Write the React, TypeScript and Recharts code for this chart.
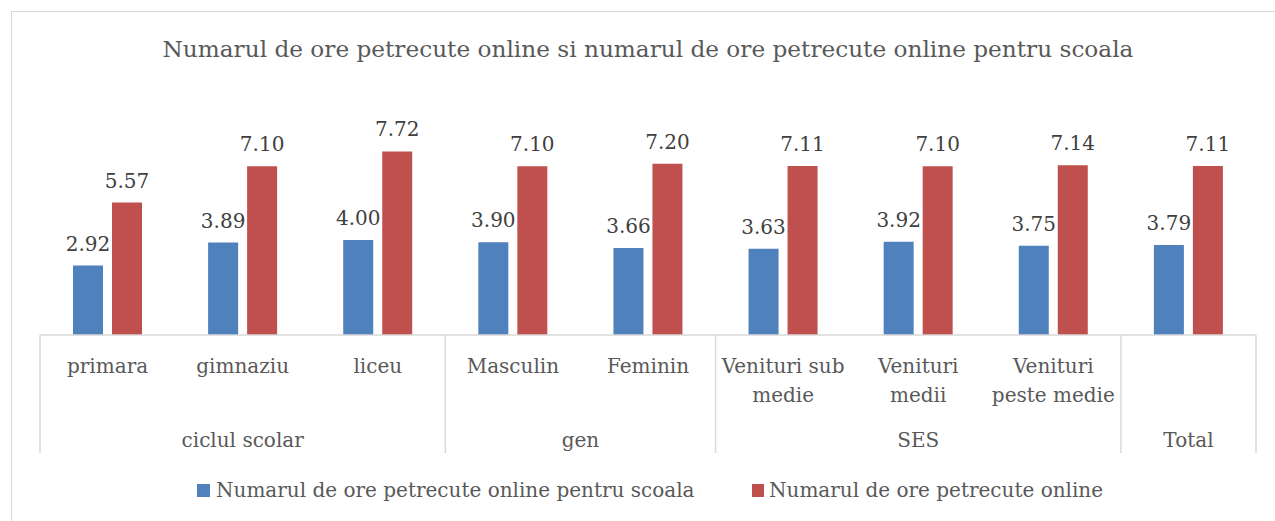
import React from "react";
import { BarChart, Bar, XAxis, YAxis, Legend, LabelList } from "recharts";

const categories = [
  "primara",
  "gimnaziu",
  "liceu",
  "Masculin",
  "Feminin",
  "Venituri sub\nmedie",
  "Venituri\nmedii",
  "Venituri\npeste medie",
  "",
];
const groupNames = ["ciclul scolar", "gen", "SES", "Total"];
const groupSizes = [3, 2, 3, 1];

const schoolHours = [2.92, 3.89, 4.0, 3.9, 3.66, 3.63, 3.92, 3.75, 3.79];
const onlineHours = [5.57, 7.1, 7.72, 7.1, 7.2, 7.11, 7.1, 7.14, 7.11];

const seriesNames = [
  "Numarul de ore petrecute online pentru scoala",
  "Numarul de ore petrecute online",
];
const title =
  "Numarul de ore petrecute online si numarul de ore petrecute online pentru scoala";

const data = categories.map((name, i) => ({
  name,
  school: schoolHours[i],
  online: onlineHours[i],
}));

const FONT = "'DejaVu Serif', serif";
const TEXT = "#595959";
const GRID = "#d9d9d9";
const BLUE = "#4F81BD";
const RED = "#C0504D";

const CategoryTick = (props: any) => {
  const { x, y, payload, index } = props;
  const half = payload?.offset || 67.5;
  const step = half * 2;
  const lines = String(payload?.value ?? "").split("\n");

  let start = 0;
  let groupIdx = -1;
  for (let g = 0; g < groupSizes.length; g++) {
    if (index === start) groupIdx = g;
    start += groupSizes[g];
  }
  const isLast = index === categories.length - 1;

  return (
    <g>
      {lines.map((l, k) => (
        <text
          key={k}
          x={x}
          y={y + 38 + k * 29}
          textAnchor="middle"
          fontFamily={FONT}
          fontSize={20}
          fill={TEXT}
        >
          {l}
        </text>
      ))}
      {groupIdx >= 0 && (
        <>
          <line x1={x - half} x2={x - half} y1={y} y2={y + 118} stroke={GRID} strokeWidth={1.5} />
          <text
            x={x - half + (groupSizes[groupIdx] * step) / 2}
            y={y + 112}
            textAnchor="middle"
            fontFamily={FONT}
            fontSize={20}
            fill={TEXT}
          >
            {groupNames[groupIdx]}
          </text>
        </>
      )}
      {isLast && (
        <line x1={x + half} x2={x + half} y1={y} y2={y + 118} stroke={GRID} strokeWidth={1.5} />
      )}
    </g>
  );
};

const LegendContent = () => (
  <div
    style={{
      height: 26,
      display: "flex",
      alignItems: "center",
      fontFamily: FONT,
      fontSize: 20,
      color: TEXT,
      whiteSpace: "nowrap",
    }}
  >
    <div style={{ width: 555, display: "flex", alignItems: "center" }}>
      <span style={{ width: 13, height: 13, background: BLUE, marginRight: 6 }} />
      {seriesNames[0]}
    </div>
    <div style={{ display: "flex", alignItems: "center" }}>
      <span style={{ width: 12, height: 13, background: RED, marginRight: 5 }} />
      {seriesNames[1]}
    </div>
  </div>
);

export default function App() {
  return (
    <div
      style={{
        position: "absolute",
        left: 11,
        top: 11,
        width: 1290,
        height: 530,
        border: `1px solid ${GRID}`,
        background: "#fff",
      }}
    >
      <svg
        width={1262}
        height={80}
        style={{ position: "absolute", left: 0, top: 0, pointerEvents: "none" }}
      >
        <text x={636} y={45} textAnchor="middle" fontFamily={FONT} fontSize={23.2} fill={TEXT}>
          {title}
        </text>
      </svg>
      <BarChart
        width={1262}
        height={509}
        data={data}
        margin={{ top: 109, right: 18, left: 28, bottom: 18 }}
        barSize={30}
        barGap={9}
      >
        <XAxis
          dataKey="name"
          interval={0}
          tickLine={false}
          tickSize={0}
          tickMargin={0}
          height={142}
          axisLine={{ stroke: GRID, strokeWidth: 1.5 }}
          tick={(p: any) => <CategoryTick {...p} />}
        />
        <YAxis hide domain={[0, 9]} />
        <Legend
          verticalAlign="bottom"
          align="left"
          wrapperStyle={{ left: 185, width: 1000 }}
          content={() => <LegendContent />}
        />
        <Bar dataKey="school" name={seriesNames[0]} fill={BLUE} isAnimationActive={false}>
          <LabelList
            dataKey="school"
            position="top"
            offset={15}
            fill="#404040"
            fontFamily={FONT}
            fontSize={20}
            formatter={(v: any) => Number(v).toFixed(2)}
          />
        </Bar>
        <Bar dataKey="online" name={seriesNames[1]} fill={RED} isAnimationActive={false}>
          <LabelList
            dataKey="online"
            position="top"
            offset={15}
            fill="#404040"
            fontFamily={FONT}
            fontSize={20}
            formatter={(v: any) => Number(v).toFixed(2)}
          />
        </Bar>
      </BarChart>
    </div>
  );
}
